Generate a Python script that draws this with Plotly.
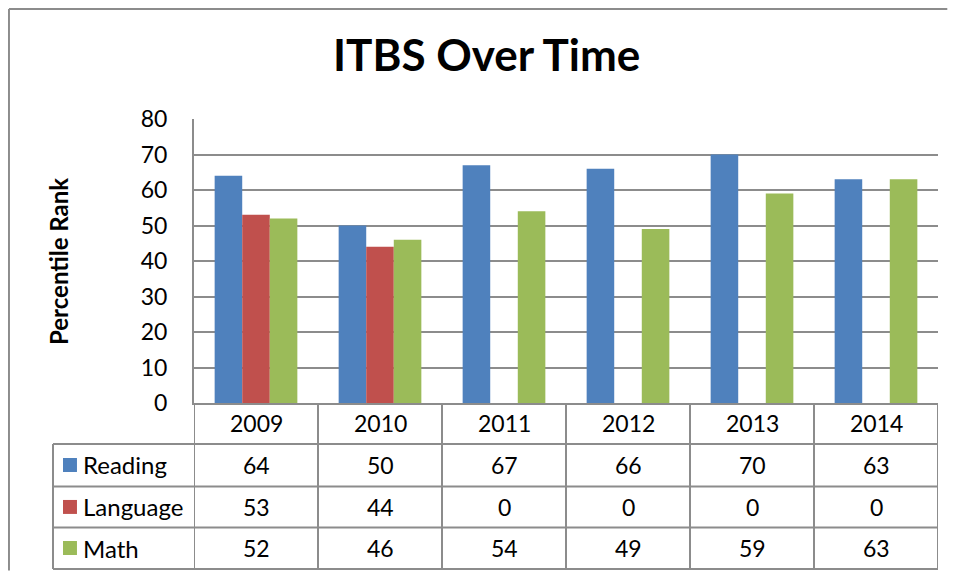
import plotly.graph_objects as go

# datos de la tabla
years = ["2009", "2010", "2011", "2012", "2013", "2014"]
reading = [64, 50, 67, 66, 70, 63]
language = [53, 44, 0, 0, 0, 0]
math = [52, 46, 54, 49, 59, 63]

series = [("Reading", reading, "#4F81BD"),
          ("Language", language, "#C0504D"),
          ("Math", math, "#9BBB59")]

font_name = "Lato"
grid = "#8C8C8C"

fig = go.Figure()
for name, vals, col in series:
    fig.add_trace(go.Bar(x=years, y=vals, name=name, marker_color=col,
                         marker_line_width=0, showlegend=False))

# filas de la tabla (posicion vertical en papel)
row_y = [-0.2183, -0.366, -0.5106]
row_lines = [-0.1444, -0.294, -0.438, -0.5845]

shapes = []
# lineas horizontales de la tabla
for yl in row_lines:
    shapes.append(dict(type="line", xref="paper", yref="paper", x0=-0.1895, x1=1,
                       y0=yl, y1=yl, line=dict(color=grid, width=2)))
# lineas verticales entre columnas
for i in range(len(years) + 1):
    shapes.append(dict(type="line", xref="x", yref="paper", x0=i - 0.5, x1=i - 0.5,
                       y0=0, y1=row_lines[-1], line=dict(color=grid, width=2)))
shapes.append(dict(type="line", xref="paper", yref="paper", x0=-0.1895, x1=-0.1895,
                   y0=row_lines[0], y1=row_lines[-1], line=dict(color=grid, width=2)))
# borde exterior del grafico (solo arriba e izquierda)
shapes.append(dict(type="line", xref="paper", yref="paper", x0=-0.2487, x1=1.0125,
                   y0=1.387, y1=1.387, line=dict(color=grid, width=2)))
shapes.append(dict(type="line", xref="paper", yref="paper", x0=-0.2487, x1=-0.2487,
                   y0=1.387, y1=-0.59, line=dict(color=grid, width=2)))

annotations = []
# encabezado de anios
for i, yr in enumerate(years):
    annotations.append(dict(x=i, y=-0.0704, xref="x", yref="paper", text=yr,
                            yanchor="middle", showarrow=False,
                            font=dict(size=23, color="black")))
# valores y leyenda
for (name, vals, col), ry in zip(series, row_y):
    shapes.append(dict(type="rect", xref="paper", yref="paper", x0=-0.1761, x1=-0.1573,
                       y0=ry - 0.0246, y1=ry + 0.0246, fillcolor=col, line_width=0))
    annotations.append(dict(x=-0.1520, y=ry, xref="paper", yref="paper", text=name,
                            xanchor="left", yanchor="middle", showarrow=False,
                            font=dict(size=24, color="black")))
    for i, v in enumerate(vals):
        annotations.append(dict(x=i, y=ry, xref="x", yref="paper", text=str(v),
                                yanchor="middle", showarrow=False,
                                font=dict(size=23, color="black")))

annotations.append(dict(x=-0.1828, y=0.5, xref="paper", yref="paper",
                        text="<b>Percentile Rank</b>", textangle=-90, showarrow=False,
                        xanchor="center", yanchor="middle",
                        font=dict(size=24, color="black")))
annotations.append(dict(x=0.3925, y=1.228, xref="paper", yref="paper",
                        text="<b>ITBS Over Time</b>", showarrow=False,
                        xanchor="center", yanchor="middle",
                        font=dict(size=44, color="black")))

# la pagina tiene 8px de margen en el body; sin barras de desplazamiento
fig.update_layout(
    width=940, height=563,
    margin=dict(l=186, r=10, t=111, b=168),
    paper_bgcolor="white", plot_bgcolor="white",
    font=dict(family=font_name, color="black"),
    barmode="group", bargap=0.333, bargroupgap=0,
    shapes=shapes, annotations=annotations,
)
fig.update_xaxes(range=[-0.5, 5.5], showticklabels=False, showgrid=False,
                 showline=True, linecolor=grid, linewidth=2, zeroline=False)
fig.update_yaxes(range=[0, 80], dtick=10, showgrid=True, gridcolor=grid, gridwidth=2,
                 showline=True, linecolor=grid, linewidth=2, zeroline=False,
                 tickfont=dict(size=23, color="black"), ticklabelstandoff=20)

fig.write_html("out.html")
